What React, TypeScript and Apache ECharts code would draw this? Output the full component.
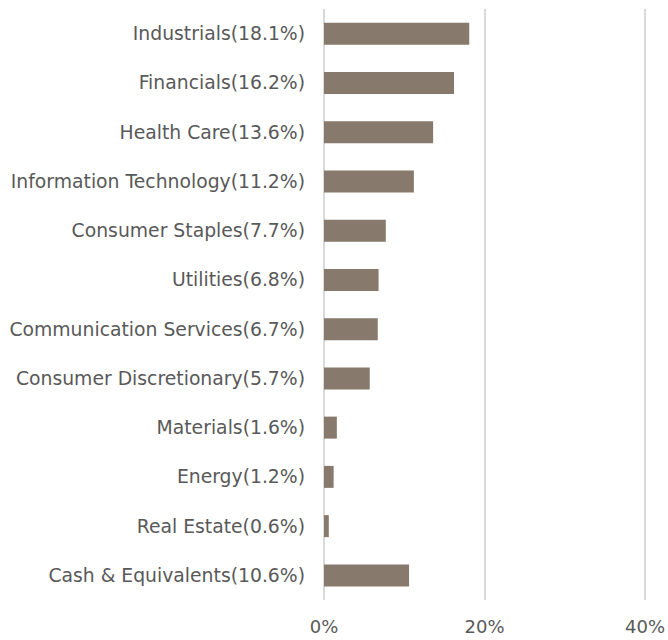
import React, { useEffect, useRef } from "react";
import * as echarts from "echarts";

const categories = [
  "Industrials",
  "Financials",
  "Health Care",
  "Information Technology",
  "Consumer Staples",
  "Utilities",
  "Communication Services",
  "Consumer Discretionary",
  "Materials",
  "Energy",
  "Real Estate",
  "Cash & Equivalents",
];
const values = [18.1, 16.2, 13.6, 11.2, 7.7, 6.8, 6.7, 5.7, 1.6, 1.2, 0.6, 10.6];
const xTicks = [0, 20, 40];

export default function App() {
  const ref = useRef<HTMLDivElement>(null);
  useEffect(() => {
    if (!ref.current) return;
    const chart = echarts.init(ref.current, null, { renderer: "svg" });
    const labels = categories.map((c, i) => `${c}(${values[i].toFixed(1)}%)`);
    chart.setOption({
      animation: false,
      backgroundColor: "#ffffff",
      grid: { left: 324, right: 22, top: 9, bottom: 40, containLabel: false },
      xAxis: {
        type: "value",
        min: xTicks[0],
        max: xTicks[xTicks.length - 1],
        interval: 20,
        axisLine: { show: false },
        axisTick: { show: false },
        splitLine: { show: true, lineStyle: { color: "#d9d9d9", width: 2 } },
        axisLabel: {
          color: "#595959",
          fontFamily: "DejaVu Sans",
          fontSize: 18,
          margin: 17,
          formatter: (v: number) => `${v}%`,
        },
      },
      yAxis: {
        type: "category",
        inverse: true,
        data: labels,
        axisLine: { show: false },
        axisTick: { show: false },
        axisLabel: {
          color: "#595959",
          fontFamily: "DejaVu Sans",
          fontSize: 18.8,
          margin: 19,
        },
      },
      series: [
        {
          type: "bar",
          data: values,
          barWidth: 22,
          itemStyle: { color: "#87796b" },
        },
      ],
    });
    return () => chart.dispose();
  }, []);
  return (
    <div
      ref={ref}
      style={{ position: "absolute", left: 0, top: 0, width: 668, height: 640 }}
    />
  );
}
